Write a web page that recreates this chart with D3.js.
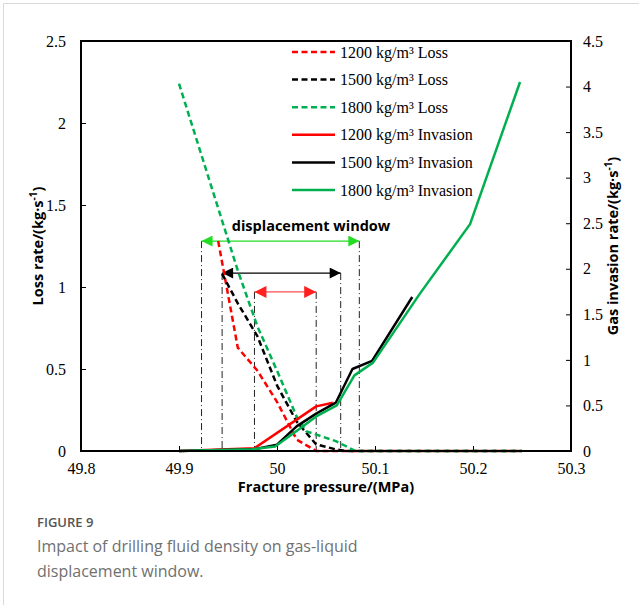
<!DOCTYPE html>
<html>
<head>
<meta charset="utf-8">
<script src="https://cdn.jsdelivr.net/npm/d3@7"></script>
<style>
  body { margin: 0; background: #fff; }
  svg { display: block; }
</style>
</head>
<body>
<div id="c1"></div>
<script>
// Data
var xTicks = [49.8, 49.9, 50.0, 50.1, 50.2, 50.3];
var xTickLabels = ["49.8", "49.9", "50", "50.1", "50.2", "50.3"];
var lossTicks = [0, 0.5, 1, 1.5, 2, 2.5];
var invTicks = [0, 0.5, 1, 1.5, 2, 2.5, 3, 3.5, 4, 4.5];

var seriesNames = ["1200 kg/m³ Loss", "1500 kg/m³ Loss", "1800 kg/m³ Loss",
                   "1200 kg/m³ Invasion", "1500 kg/m³ Invasion", "1800 kg/m³ Invasion"];

var loss1200P = [49.94, 49.96, 49.98, 50.0, 50.02, 50.04, 50.25];
var loss1200V = [1.28, 0.63, 0.49, 0.30, 0.07, 0, 0];
var loss1500P = [49.944, 49.96, 49.98, 50.0, 50.02, 50.04, 50.06, 50.07, 50.25];
var loss1500V = [1.08, 0.90, 0.70, 0.40, 0.18, 0.04, 0.01, 0, 0];
var loss1800P = [49.9, 49.96, 49.98, 50.0, 50.02, 50.03, 50.06, 50.08, 50.25];
var loss1800V = [2.24, 1.10, 0.76, 0.49, 0.21, 0.12, 0.06, 0, 0];

var inv1200P = [49.9, 49.977, 50.04, 50.057];
var inv1200V = [0, 0.03, 0.49, 0.53];
var inv1500P = [49.9, 49.977, 50.0, 50.02, 50.04, 50.06, 50.077, 50.097, 50.138];
var inv1500V = [0, 0.02, 0.07, 0.27, 0.41, 0.53, 0.90, 0.99, 1.69];
var inv1800P = [49.9, 49.975, 49.998, 50.02, 50.04, 50.061, 50.079, 50.098, 50.146, 50.197, 50.248];
var inv1800V = [0, 0.02, 0.05, 0.22, 0.38, 0.50, 0.83, 0.97, 1.73, 2.49, 4.05];

// displacement windows (1200, 1500, 1800)
var windowLeft = [49.977, 49.944, 49.923];
var windowRight = [50.040, 50.065, 50.084];
var windowLevel = [0.97, 1.085, 1.28];

// Layout
var W = 639, H = 605;
var pLeft = 81, pRight = 571, pTop = 41, pBottom = 451;
var colors = ["#ff0000", "#000000", "#00b050"];
var arrowColors = ["#ff2020", "#000000", "#22dd22"];

var svg = d3.select("#c1").append("svg")
    .attr("width", W)
    .attr("height", H)
    .style("font-family", "'Liberation Serif', 'Times New Roman', serif");

// card frame
svg.append("path")
    .attr("d", "M3.5," + H + "V3.5H" + W)
    .attr("fill", "none")
    .attr("stroke", "#d9d9d9")
    .attr("stroke-width", 1);

var x = d3.scaleLinear().domain([49.8, 50.3]).range([pLeft, pRight]);
var yL = d3.scaleLinear().domain([0, 2.5]).range([pBottom, pTop]);
var yR = d3.scaleLinear().domain([0, 4.5]).range([pBottom, pTop]);

// arrow markers
var defs = svg.append("defs");
arrowColors.forEach(function (c, i) {
    defs.append("marker")
        .attr("id", "arr" + i)
        .attr("viewBox", "0 0 10 10")
        .attr("refX", 10).attr("refY", 5)
        .attr("markerWidth", i == 0 ? 13 : 12)
        .attr("markerHeight", i == 0 ? 12 : 11)
        .attr("markerUnits", "userSpaceOnUse")
        .attr("orient", "auto-start-reverse")
        .append("path")
        .attr("d", "M0,0L10,5L0,10Z")
        .attr("fill", c);
});

// windows: vertical dash-dot lines + arrows
var win = svg.append("g");
windowLeft.forEach(function (l, i) {
    [l, windowRight[i]].forEach(function (p) {
        win.append("line")
            .attr("x1", x(p)).attr("x2", x(p))
            .attr("y1", yL(windowLevel[i])).attr("y2", pBottom)
            .attr("stroke", "#222")
            .attr("stroke-width", 1)
            .attr("stroke-dasharray", "7,3,1,3");
    });
    win.append("line")
        .attr("x1", x(l)).attr("x2", x(windowRight[i]))
        .attr("y1", yL(windowLevel[i])).attr("y2", yL(windowLevel[i]))
        .attr("stroke", arrowColors[i])
        .attr("stroke-width", i == 0 ? 1 : 1.3)
        .attr("marker-start", "url(#arr" + i + ")")
        .attr("marker-end", "url(#arr" + i + ")");
});

svg.append("text")
    .attr("x", 311).attr("y", 231)
    .attr("text-anchor", "middle")
    .style("font-family", "'Open Sans', sans-serif")
    .style("font-weight", "bold")
    .style("font-size", "14.5px")
    .text("displacement window");

// series
var lossP = [loss1200P, loss1500P, loss1800P];
var lossV = [loss1200V, loss1500V, loss1800V];
var invP = [inv1200P, inv1500P, inv1800P];
var invV = [inv1200V, inv1500V, inv1800V];

var lineL = d3.line().x(function (d) { return x(d[0]); }).y(function (d) { return yL(d[1]); });
var lineR = d3.line().x(function (d) { return x(d[0]); }).y(function (d) { return yR(d[1]); });

lossP.forEach(function (p, i) {
    svg.append("path")
        .datum(p.map(function (v, j) { return [v, lossV[i][j]]; }))
        .attr("d", lineL)
        .attr("fill", "none")
        .attr("stroke", colors[i])
        .attr("stroke-width", 2.5)
        .attr("stroke-dasharray", "6,3.5");
});
invP.forEach(function (p, i) {
    svg.append("path")
        .datum(p.map(function (v, j) { return [v, invV[i][j]]; }))
        .attr("d", lineR)
        .attr("fill", "none")
        .attr("stroke", colors[i])
        .attr("stroke-width", 2.5)
        .attr("stroke-linejoin", "round");
});

// axes
svg.append("g")
    .attr("transform", "translate(0," + pBottom + ")")
    .call(d3.axisBottom(x).tickValues(xTicks).tickSizeInner(-5).tickSizeOuter(0)
        .tickFormat(function (d, i) { return xTickLabels[i]; }))
    .call(function (g) {
        g.select(".domain").remove();
        g.selectAll(".tick line").attr("stroke-width", 1);
        g.selectAll("text").attr("y", 12).attr("dy", "0.71em")
            .style("font-size", "16px").style("font-family", "'Liberation Serif', serif");
    });
svg.append("g")
    .attr("transform", "translate(" + pLeft + ",0)")
    .call(d3.axisLeft(yL).tickValues(lossTicks).tickSizeInner(-5).tickSizeOuter(0)
        .tickFormat(d3.format("")))
    .call(function (g) {
        g.select(".domain").remove();
        g.selectAll("text").attr("x", -15)
            .style("font-size", "16px").style("font-family", "'Liberation Serif', serif");
    });
svg.append("g")
    .attr("transform", "translate(" + pRight + ",0)")
    .call(d3.axisRight(yR).tickValues(invTicks).tickSizeInner(-5).tickSizeOuter(0)
        .tickFormat(d3.format("")))
    .call(function (g) {
        g.select(".domain").remove();
        g.selectAll("text").attr("x", 12)
            .style("font-size", "16px").style("font-family", "'Liberation Serif', serif");
    });

// frame
svg.append("rect")
    .attr("x", pLeft).attr("y", pTop)
    .attr("width", pRight - pLeft).attr("height", pBottom - pTop)
    .attr("fill", "none")
    .attr("stroke", "#000")
    .attr("stroke-width", 2);

// axis titles
var sans = "'Open Sans', sans-serif";
svg.append("text")
    .attr("x", 326).attr("y", 492)
    .attr("text-anchor", "middle")
    .style("font-family", sans).style("font-weight", "bold").style("font-size", "14.5px")
    .text("Fracture pressure/(MPa)");

var yt = svg.append("text")
    .attr("transform", "translate(43,246) rotate(-90)")
    .attr("text-anchor", "middle")
    .style("font-family", sans).style("font-weight", "bold").style("font-size", "14.5px");
yt.append("tspan").text("Loss rate/(kg·s");
yt.append("tspan").attr("dy", -6).style("font-size", "10px").text("-1");
yt.append("tspan").attr("dy", 6).text(")");

var rt = svg.append("text")
    .attr("transform", "translate(618,246) rotate(-90)")
    .attr("text-anchor", "middle")
    .style("font-family", sans).style("font-weight", "bold").style("font-size", "14.5px");
rt.append("tspan").text("Gas invasion rate/(kg·s");
rt.append("tspan").attr("dy", -6).style("font-size", "10px").text("-1");
rt.append("tspan").attr("dy", 6).text(")");

// legend
var leg = svg.append("g").attr("transform", "translate(292,52)");
seriesNames.forEach(function (name, i) {
    var row = leg.append("g").attr("transform", "translate(0," + (i * 27.6) + ")");
    row.append("line")
        .attr("x1", 0).attr("x2", 43)
        .attr("stroke", colors[i % 3])
        .attr("stroke-width", 2.5)
        .attr("stroke-dasharray", i < 3 ? "6,3.5" : null);
    row.append("text")
        .attr("x", 48).attr("dy", "0.35em")
        .style("font-size", "16px")
        .text(name);
});

// caption
svg.append("text")
    .attr("x", 37).attr("y", 527)
    .style("font-family", sans).style("font-weight", 600).style("font-size", "13px")
    .attr("fill", "#555")
    .text("FIGURE 9");
svg.append("text")
    .attr("x", 37).attr("y", 552)
    .style("font-family", sans).style("font-size", "16px")
    .attr("fill", "#707070")
    .text("Impact of drilling fluid density on gas-liquid");
svg.append("text")
    .attr("x", 37).attr("y", 577)
    .style("font-family", sans).style("font-size", "16px")
    .attr("fill", "#707070")
    .text("displacement window.");
</script>
</body>
</html>
